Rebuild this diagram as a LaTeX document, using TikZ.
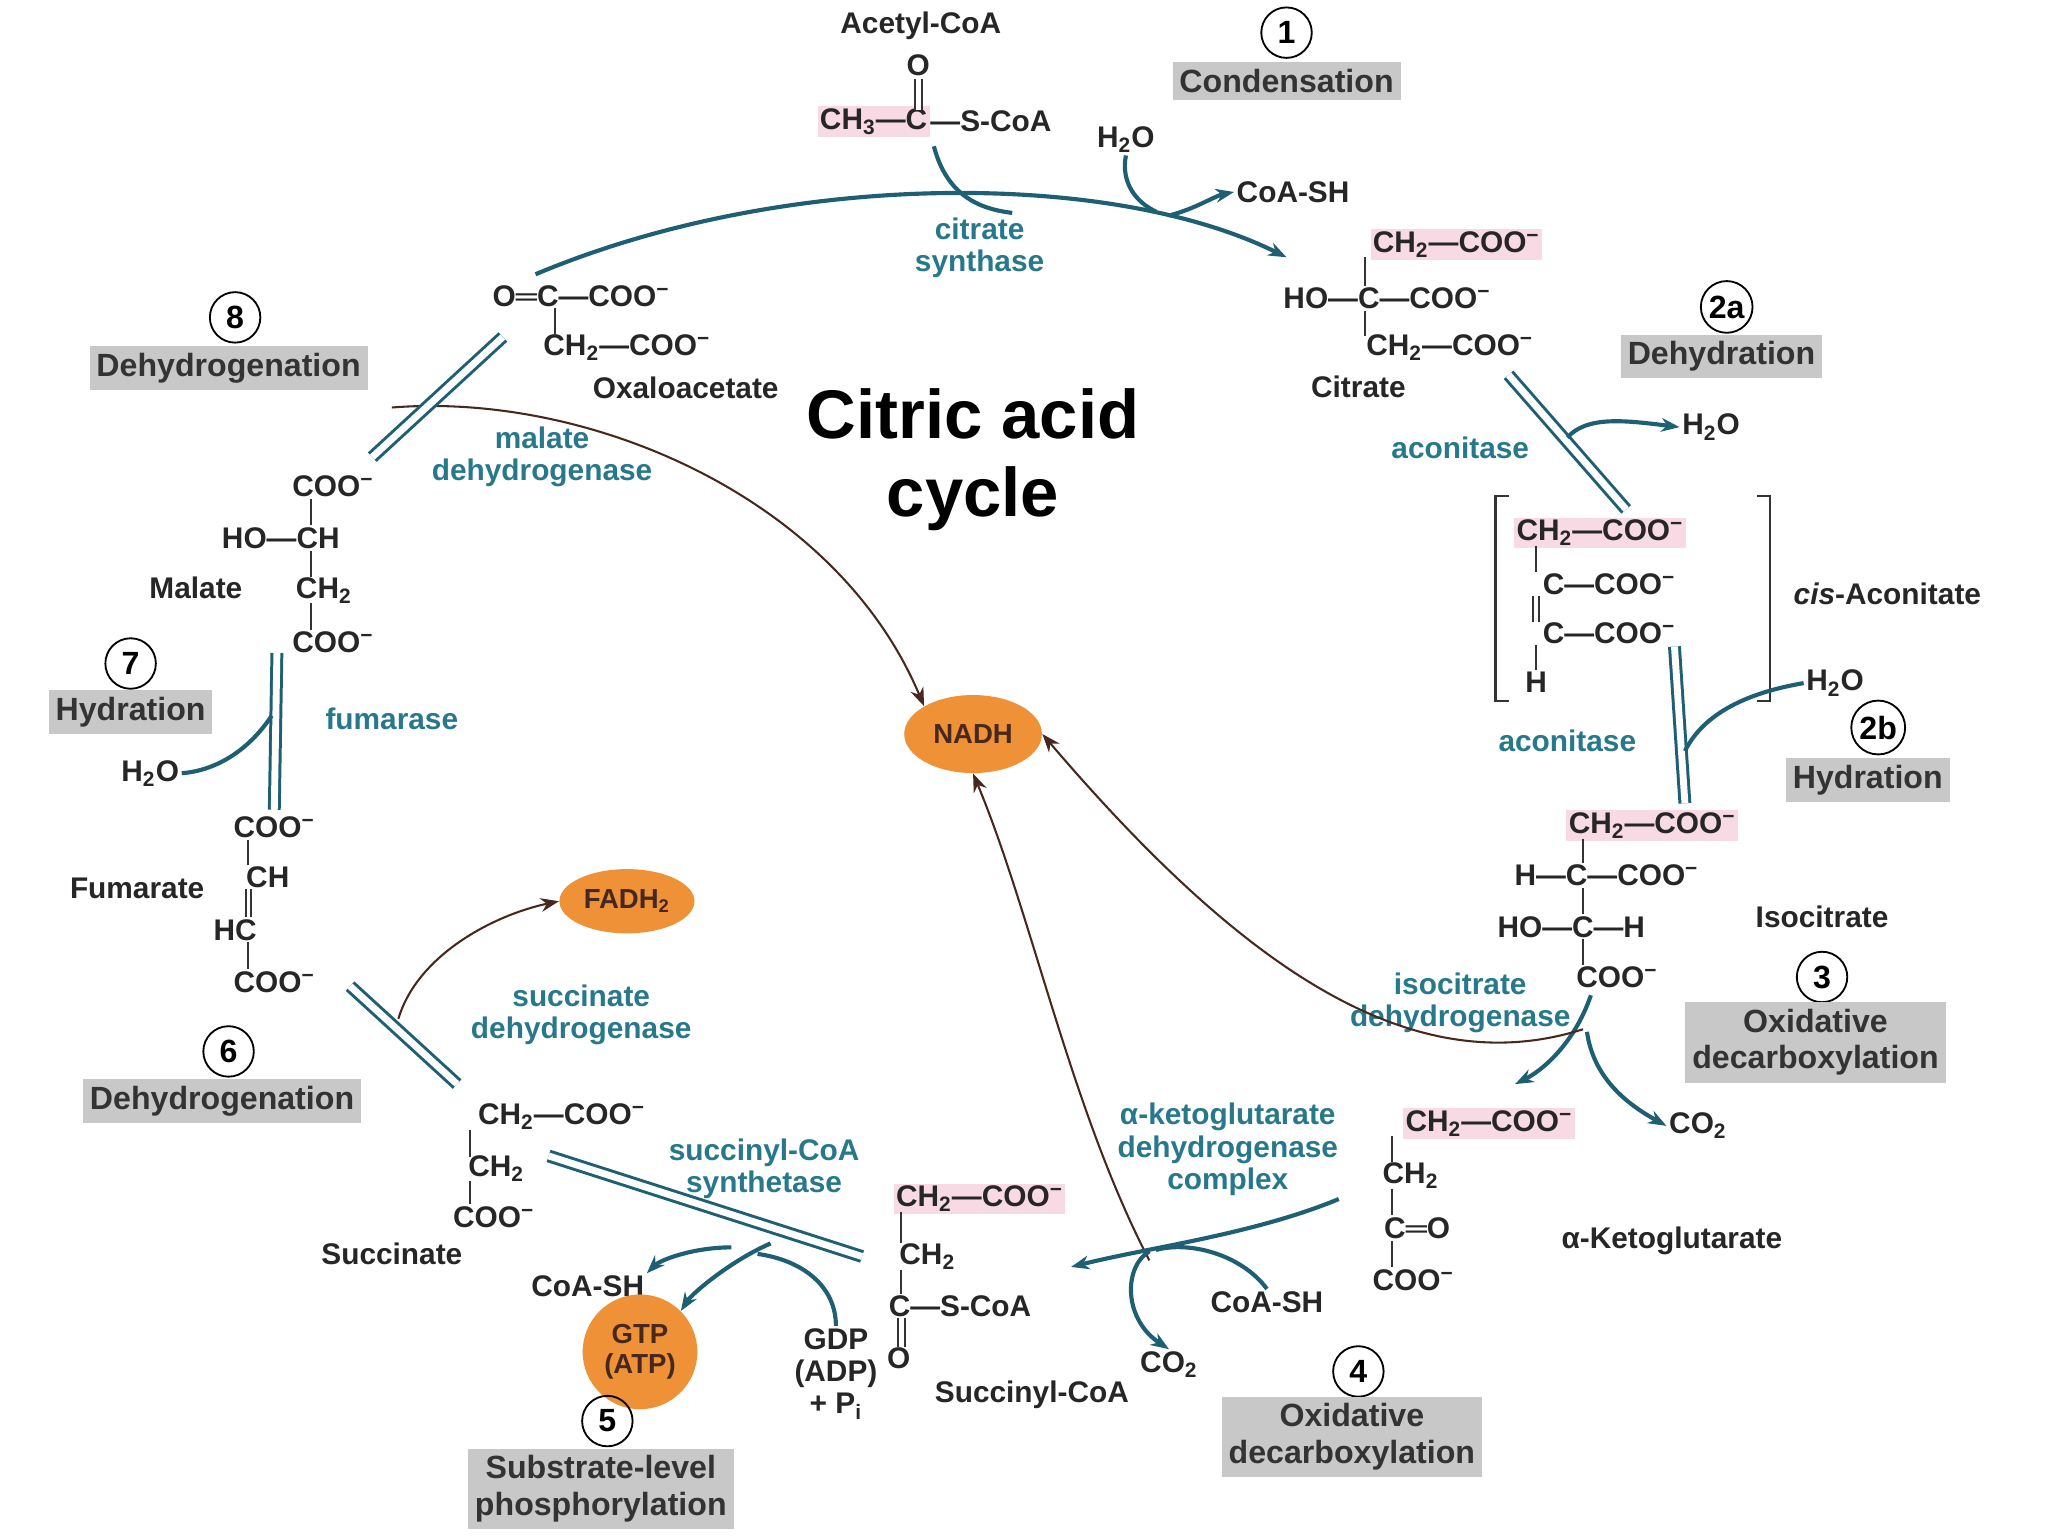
\documentclass[tikz,border=0pt]{standalone}
\usepackage{fontspec}
\setmainfont{Liberation Sans}
\usetikzlibrary{arrows.meta,calc,shapes.geometric}
\definecolor{pinkc}{RGB}{248,218,228}
\definecolor{grayc}{RGB}{200,200,200}
\definecolor{enzc}{RGB}{40,120,140}
\definecolor{arrc}{RGB}{30,95,115}
\definecolor{orc}{RGB}{238,145,55}
\definecolor{brc}{RGB}{70,40,30}
\begin{document}
\begin{tikzpicture}[x=0.02cm,y=-0.02cm,
 chem/.style={font=\fontsize{13}{14}\selectfont\bfseries,inner sep=1pt,text=black!85},
 pk/.style={chem,fill=pinkc},
 enz/.style={font=\fontsize{13}{14}\selectfont\bfseries,text=enzc,align=center,inner sep=1pt},
 stepbox/.style={fill=grayc,font=\fontsize{14}{16}\selectfont\bfseries,align=center,inner sep=3pt,text=black!80},
 num/.style={circle,draw,thick,font=\fontsize{14}{14}\selectfont\bfseries,inner sep=1.5pt,minimum size=22pt},
 arr/.style={draw=arrc,line width=1.8pt,-{Stealth[length=8pt]}},
 tarr/.style={draw=brc,line width=0.9pt,-{Stealth[length=8pt]}},
 dbl/.style={draw=arrc,double=white,double distance=3pt,line width=1.3pt},
 bond/.style={draw=black!80,line width=0.9pt},
 cof/.style={fill=orc,ellipse,font=\fontsize{12}{13}\selectfont\bfseries,text=brc,inner sep=2pt}]
\useasboundingbox (0,0) rectangle (1568,1176);
\fill[white] (0,0) rectangle (1568,1176);
% title
\node[font=\fontsize{30}{34}\selectfont\bfseries,align=center] (title) at (745,352) {Citric acid\\cycle};
% acetyl-CoA
\node[chem] (acl) at (705,20) {Acetyl-CoA};
\node[pk,anchor=east] (aC) at (712,93) {CH\textsubscript{3}—C};
\node[chem,anchor=west,inner sep=0pt] (aS) at (712,93) {—S-CoA};
\node[chem] (aO) at (703,50) {O};
\draw[bond,double,double distance=2pt] (aO.south) -- (703,84);
\node[num] (n1) at (985,25) {1};
\node[stepbox] (s1) at (985,62) {Condensation};
\node[chem] (h2o1) at (862,107) {H\textsubscript{2}O};
\node[chem] (coa1) at (990,147) {CoA-SH};
\node[enz] (cs) at (750,190) {citrate\\synthase};
% oxaloacetate
\node[chem] (oxa1) at (445,227) {O═C—COO\textsuperscript{−}};
\node[chem] (oxa2) at (480,266) {CH\textsubscript{2}—COO\textsuperscript{−}};
\node[chem] (oxal) at (525,297) {Oxaloacetate};
\draw[bond] (425,236) -- (425,257);
% citrate
\node[pk] (ci1) at (1115,187) {CH\textsubscript{2}—COO\textsuperscript{−}};
\node[chem] (ci2) at (1062,228) {HO—C—COO\textsuperscript{−}};
\node[chem] (ci3) at (1110,266) {CH\textsubscript{2}—COO\textsuperscript{−}};
\node[chem] (cil) at (1040,296) {Citrate};
\draw[bond] (1045,197) -- (1045,219) (1045,238) -- (1045,257);
\node[num] (n2a) at (1322,235) {2a};
\node[stepbox] (s2a) at (1318,273) {Dehydration};
% main arc
\coordinate (oxs) at (410,210);
\coordinate (cis) at (985,197);
\draw[arr] (oxs) .. controls (600,130) and (850,130) .. (cis);
\draw[arrc,line width=1.8pt] (715,112) .. controls (725,150) and (750,160) .. (775,163);
\draw[arrc,line width=1.8pt] (h2o1.south) .. controls (858,140) and (870,155) .. (885,162);
\draw[arr] (895,165) .. controls (915,160) and (930,150) .. (coa1.west);
% aconitase 1
\coordinate (a1) at (1155,287); \coordinate (a2) at (1245,390);
\draw[dbl] (a1) -- (a2);
\node[enz] (acn1) at (1118,343) {aconitase};
\node[chem] (h2o2) at (1310,327) {H\textsubscript{2}O};
\draw[arr] (1200,335) .. controls (1215,318) and (1245,322) .. (h2o2.west);
% cis-aconitate
\node[pk] (ca1) at (1225,408) {CH\textsubscript{2}—COO\textsuperscript{−}};
\node[chem] (ca2) at (1232,447) {C—COO\textsuperscript{−}};
\node[chem] (ca3) at (1232,485) {C—COO\textsuperscript{−}};
\node[chem] (ca4) at (1176,522) {H};
\draw[bond] (1176,418) -- (1176,438) (1176,494) -- (1176,513);
\draw[bond] (1174,456) -- (1174,476) (1178,456) -- (1178,476);
\draw[bond] (1155,380) -- (1145,380) -- (1145,537) -- (1155,537);
\draw[bond] (1345,380) -- (1355,380) -- (1355,537) -- (1345,537);
\node[chem] (cal) at (1445,455) {\textit{cis}-Aconitate};
% aconitase 2
\coordinate (b1) at (1282,495); \coordinate (b2) at (1290,615);
\draw[dbl] (b1) -- (b2);
\node[enz] (acn2) at (1200,567) {aconitase};
\node[chem] (h2o3) at (1405,523) {H\textsubscript{2}O};
\draw[arrc,line width=1.8pt] (h2o3.west) .. controls (1340,530) and (1305,545) .. (1290,575);
\node[num] (n2b) at (1438,557) {2b};
\node[stepbox] (s2b) at (1430,597) {Hydration};
% isocitrate
\node[pk] (ic1) at (1265,632) {CH\textsubscript{2}—COO\textsuperscript{−}};
\node[chem] (ic2) at (1230,670) {H—C—COO\textsuperscript{−}};
\node[chem] (ic3) at (1203,710) {HO—C—H};
\node[chem] (ic4) at (1238,748) {COO\textsuperscript{−}};
\draw[bond] (1212,642) -- (1212,661) (1212,680) -- (1212,700) (1212,719) -- (1212,739);
\node[chem] (icl) at (1395,702) {Isocitrate};
\node[num] (n3) at (1395,748) {3};
\node[stepbox] (s3) at (1390,798) {Oxidative\\decarboxylation};
\node[enz] (idh) at (1118,768) {isocitrate\\dehydrogenase};
\coordinate (i1) at (1218,762);
\draw[arr] (i1) .. controls (1205,800) and (1180,820) .. (1160,830);
\node[chem] (co21) at (1300,862) {CO\textsubscript{2}};
\draw[arr] (1215,790) .. controls (1220,825) and (1245,845) .. (co21.west);
% NADH
\node[cof,minimum width=60pt,minimum height=34pt] (nadh) at (745,562) {NADH};
\draw[tarr] (1212,788) .. controls (1080,830) and (950,740) .. (nadh.east);
\draw[tarr] (300,312) .. controls (450,300) and (640,380) .. (nadh.north west);
\draw[tarr] (880,965) .. controls (820,850) and (790,700) .. (nadh.south);
% alpha-ketoglutarate
\node[pk] (ak1) at (1140,860) {CH\textsubscript{2}—COO\textsuperscript{−}};
\node[chem] (ak2) at (1080,900) {CH\textsubscript{2}};
\node[chem] (ak3) at (1085,940) {C═O};
\node[chem] (ak4) at (1082,980) {COO\textsuperscript{−}};
\draw[bond] (1066,870) -- (1066,890) (1066,910) -- (1066,930) (1066,950) -- (1066,970);
\node[chem] (akl) at (1280,950) {α-Ketoglutarate};
\node[enz] (kdh) at (940,880) {α-ketoglutarate\\dehydrogenase\\complex};
\node[num] (n4) at (1040,1050) {4};
\node[stepbox] (s4) at (1035,1100) {Oxidative\\decarboxylation};
\coordinate (k1) at (1025,918);
\draw[arr] (k1) .. controls (960,945) and (880,955) .. (820,970);
\node[chem] (coa2) at (970,997) {CoA-SH};
\draw[arrc,line width=1.8pt] (coa2.north) .. controls (950,960) and (910,950) .. (885,957);
\node[chem] (co22) at (895,1045) {CO\textsubscript{2}};
\draw[arr] (880,958) .. controls (860,970) and (860,1010) .. (co22.north);
% succinyl-CoA
\node[pk] (sc1) at (750,918) {CH\textsubscript{2}—COO\textsuperscript{−}};
\node[chem] (sc2) at (710,962) {CH\textsubscript{2}};
\node[chem] (sc3) at (735,1000) {C—S-CoA};
\node[chem] (sc4) at (688,1040) {O};
\draw[bond] (690,928) -- (690,952) (690,972) -- (690,991);
\draw[bond,double,double distance=2pt] (690,1009) -- (690,1031);
\node[chem] (scl) at (790,1068) {Succinyl-CoA};
\node[chem,align=center] (gdp) at (640,1052) {GDP\\(ADP)\\+ P\textsubscript{i}};
\node[enz] (scs) at (585,895) {succinyl-CoA\\synthetase};
\coordinate (u1) at (660,962); \coordinate (u2) at (420,885);
\draw[dbl] (u1) -- (u2);
\draw[arrc,line width=1.8pt] (gdp.north) .. controls (640,985) and (615,965) .. (580,960);
\node[chem] (coa3) at (450,985) {CoA-SH};
\draw[arr] (560,955) .. controls (530,955) and (505,965) .. (coa3.north east);
\node[cof,circle,align=center,minimum size=50pt] (gtp) at (490,1035) {GTP\\(ATP)};
\draw[arr] (590,952) .. controls (560,965) and (530,990) .. (gtp.north east);
\node[num] (n5) at (465,1088) {5};
\node[stepbox] (s5) at (460,1140) {Substrate-level\\phosphorylation};
% succinate
\node[chem] (su1) at (430,855) {CH\textsubscript{2}—COO\textsuperscript{−}};
\node[chem] (su2) at (380,895) {CH\textsubscript{2}};
\node[chem] (su3) at (378,932) {COO\textsuperscript{−}};
\draw[bond] (360,865) -- (360,886) (360,904) -- (360,922);
\node[chem] (sul) at (300,960) {Succinate};
\node[num] (n6) at (175,805) {6};
\node[stepbox] (s6) at (170,843) {Dehydrogenation};
\coordinate (v1) at (350,830); \coordinate (v2) at (268,755);
\draw[dbl] (v1) -- (v2);
\node[enz] (sdh) at (445,777) {succinate\\dehydrogenase};
\node[cof,minimum width=50pt,minimum height=28pt] (fad) at (480,690) {FADH\textsubscript{2}};
\draw[tarr] (305,780) .. controls (320,730) and (380,700) .. (fad.west);
% fumarate
\node[chem] (fu1) at (210,633) {COO\textsuperscript{−}};
\node[chem] (fu2) at (205,672) {CH};
\node[chem] (fu3) at (180,712) {HC};
\node[chem] (fu4) at (210,752) {COO\textsuperscript{−}};
\draw[bond] (190,643) -- (190,662) (190,721) -- (190,742);
\draw[bond] (188,681) -- (188,702) (192,681) -- (192,702);
\node[chem] (ful) at (105,680) {Fumarate};
\node[num] (n7) at (100,508) {7};
\node[stepbox] (s7) at (100,545) {Hydration};
\coordinate (w1) at (212,500); \coordinate (w2) at (210,620);
\draw[dbl] (w1) -- (w2);
\node[enz] (fum) at (300,550) {fumarase};
\node[chem] (h2o4) at (115,592) {H\textsubscript{2}O};
\draw[arrc,line width=1.8pt] (h2o4.east) .. controls (165,590) and (190,575) .. (208,548);
% malate
\node[chem] (ma1) at (255,372) {COO\textsuperscript{−}};
\node[chem] (ma2) at (215,412) {HO—CH};
\node[chem] (ma3) at (248,452) {CH\textsubscript{2}};
\node[chem] (ma4) at (255,492) {COO\textsuperscript{−}};
\draw[bond] (238,382) -- (238,402) (238,422) -- (238,442) (238,462) -- (238,482);
\node[chem] (mal) at (150,450) {Malate};
\node[enz] (mdh) at (415,350) {malate\\dehydrogenase};
\coordinate (m1) at (285,350); \coordinate (m2) at (385,258);
\draw[dbl] (m1) -- (m2);
\node[num] (n8) at (180,243) {8};
\node[stepbox] (s8) at (175,282) {Dehydrogenation};
\end{tikzpicture}
\end{document}
